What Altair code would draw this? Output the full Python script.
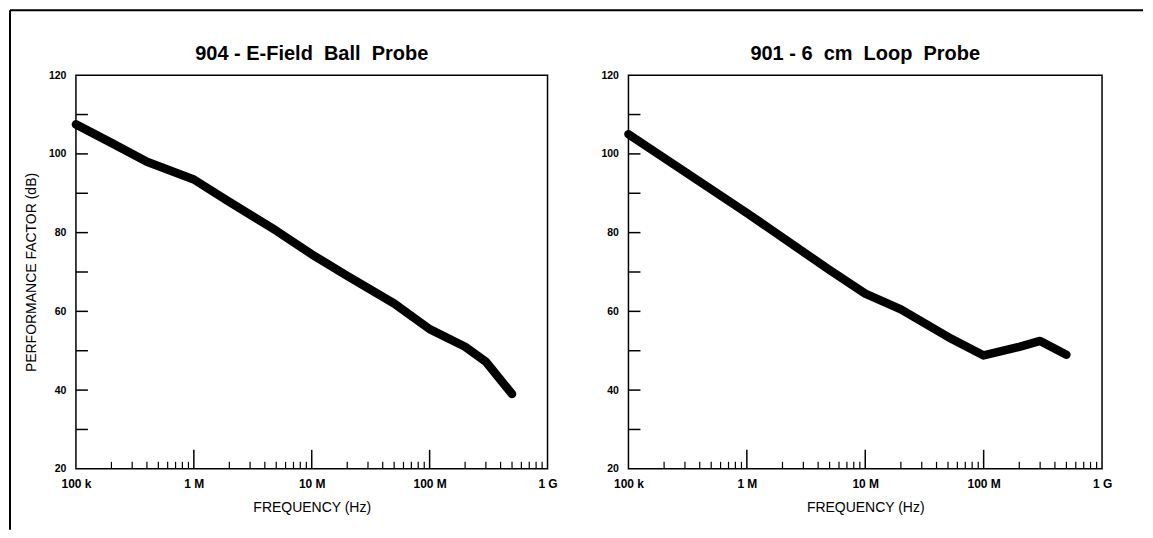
import altair as alt
import pandas as pd

# ---- data ----
ball_freq = [1e5, 2e5, 4e5, 1e6, 2e6, 5e6, 1e7, 2e7, 5e7, 1e8, 2e8, 3e8, 5e8]
ball_db = [107.5, 102.8, 98.0, 93.5, 87.8, 80.5, 74.5, 69.0, 62.0, 55.5, 51.0, 47.2, 39.0]

loop_freq = [1e5, 1e6, 5e6, 1e7, 2e7, 5e7, 1e8, 2e8, 3e8, 5e8]
loop_db = [105.0, 85.0, 70.5, 64.5, 60.5, 53.5, 48.8, 51.0, 52.5, 49.0]

x_major = [100000, 1000000, 10000000, 100000000, 1000000000]
x_labels = ["100 k", "1 M", "10 M", "100 M", "1 G"]
x_inner_decades = [1e6, 1e7, 1e8]
minor_mult = [2, 3, 4, 5, 6, 7, 8, 9]
y_major = [20, 40, 60, 80, 100, 120]
y_ticks = [30, 40, 50, 60, 70, 80, 90, 100, 110]

NB = "\u00a0"
titles = [
    f"904 - E-Field{NB}{NB}Ball{NB}{NB}Probe",
    f"901 - 6{NB}{NB}cm{NB}{NB}Loop{NB}{NB}Probe",
]
y_title = "PERFORMANCE FACTOR (dB)"
x_title = "FREQUENCY (Hz)"

FONT = "Liberation Sans"
H = 394

label_expr = " : ".join(
    [f"datum.value == {v} ? '{l}'" for v, l in zip(x_major, x_labels)] + ["''"]
)

xscale = alt.Scale(type="log", domain=[1e5, 1e9], nice=False)
yscale = alt.Scale(domain=[20, 120], nice=False, zero=False)

minor_vals = [d * m for d in [1e5, 1e6, 1e7, 1e8] for m in minor_mult]
major_df = pd.DataFrame({"freq": x_inner_decades})
minor_df = pd.DataFrame({"freq": minor_vals})
ytick_df = pd.DataFrame({"db": y_ticks})

x_axis = alt.Axis(
    values=x_major,
    labelExpr=label_expr,
    title=x_title,
    ticks=False,
    domain=False,
    grid=False,
    labelPadding=10,
    titlePadding=11,
    labelFont=FONT,
    labelFontSize=12,
    labelFontWeight="bold",
    labelColor="black",
    labelFlush=False,
    titleFont=FONT,
    titleFontSize=14,
    titleFontWeight="normal",
    titleColor="black",
)


def y_axis(show_title):
    kw = dict(
        values=y_major,
        ticks=False,
        domain=False,
        grid=False,
        labelPadding=10,
        titlePadding=10,
        labelFont=FONT,
        labelFontSize=10.5,
        labelFontWeight="bold",
        labelColor="black",
        titleFont=FONT,
        titleFontSize=14,
        titleFontWeight="normal",
        titleColor="black",
    )
    kw["title"] = y_title if show_title else ""
    return alt.Axis(**kw)


one_row = pd.DataFrame({"k": [0]})


def panel(freq, db, title, width, show_ytitle, extra=None):
    df = pd.DataFrame({"freq": freq, "db": db})
    ya = y_axis(show_ytitle)
    line = alt.Chart(df).mark_line(
        color="black", strokeWidth=8.5, strokeCap="round", strokeJoin="round"
    ).encode(
        x=alt.X("freq:Q", scale=xscale, axis=x_axis),
        y=alt.Y("db:Q", scale=yscale, axis=ya),
    )
    yt = alt.Chart(ytick_df).mark_rule(color="black", strokeWidth=1.5).encode(
        y=alt.Y("db:Q", scale=yscale, axis=ya),
        x=alt.value(0),
        x2=alt.value(12),
    )
    xmaj = alt.Chart(major_df).mark_rule(color="black", strokeWidth=1.5).encode(
        x=alt.X("freq:Q", scale=xscale, axis=x_axis),
        y=alt.value(H),
        y2=alt.value(H - 19),
    )
    xmin = alt.Chart(minor_df).mark_rule(color="black", strokeWidth=1.2).encode(
        x=alt.X("freq:Q", scale=xscale, axis=x_axis),
        y=alt.value(H),
        y2=alt.value(H - 7),
    )
    ttl = alt.Chart(one_row).mark_text(
        text=title, font=FONT, fontSize=20, fontWeight="bold", color="black",
        align="center", baseline="alphabetic",
    ).encode(x=alt.value(width / 2), y=alt.value(-15))
    layers = [line, yt, xmaj, xmin, ttl]
    if extra is not None:
        layers += extra
    return alt.layer(*layers).properties(width=width, height=H)


# scan border (top and left edges only)
left_border = alt.Chart(one_row).mark_rule(color="black", strokeWidth=2).encode(
    x=alt.value(-66), y=alt.value(-65), y2=alt.value(455)
)
top_border = alt.Chart(one_row).mark_rule(color="black", strokeWidth=2).encode(
    x=alt.value(-66), x2=alt.value(1068), y=alt.value(-65)
)

left = panel(ball_freq, ball_db, titles[0], 472, True, [left_border, top_border])
right = panel(loop_freq, loop_db, titles[1], 474, False)

chart = (
    alt.hconcat(left, right, spacing=81, bounds="flush")
    .properties(padding=0, background="white")
    .configure_view(stroke="black", strokeWidth=1.5)
)

chart.save("out.html", embed_options={"renderer": "svg", "actions": False})
